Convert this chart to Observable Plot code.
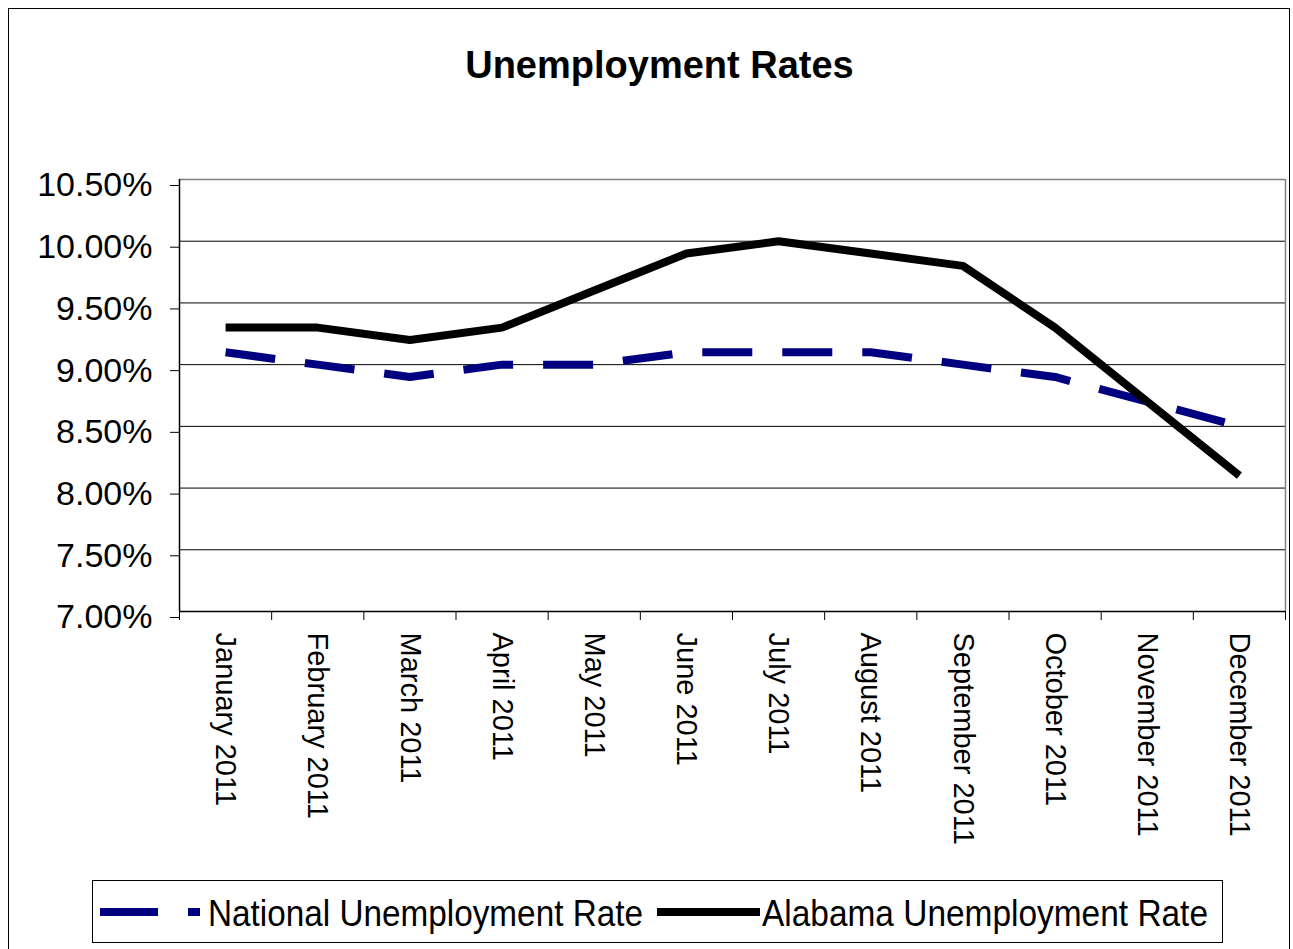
<!DOCTYPE html>
<html>
<head>
<meta charset="utf-8">
<script src="https://cdn.jsdelivr.net/npm/d3@7"></script>
<script src="https://cdn.jsdelivr.net/npm/@observablehq/plot@0.6"></script>
<style>
  html, body { margin: 0; padding: 0; background: #fff; }
  #wrap { position: relative; width: 1293px; height: 949px; overflow: hidden; background: #fff; font-family: "Liberation Sans", Arial, sans-serif; }
  #border { position: absolute; left: 8px; top: 8px; width: 1282px; height: 980px; border: 1px solid #000; box-sizing: border-box; }
  #title { position: absolute; left: 0; top: 46px; width: 1319px; text-align: center; font-size: 38px; line-height: 38px; font-weight: bold; color: #000; }
  #chart { position: absolute; left: 0; top: 0; }
  #legend { position: absolute; left: 0; top: 0; }
</style>
</head>
<body>
<div id="wrap">
  <div id="border"></div>
  <div id="title">Unemployment Rates</div>
  <div id="chart"></div>
  <svg id="legend" width="1293" height="949"></svg>
</div>
<script>
const months = ["January 2011","February 2011","March 2011","April 2011","May 2011","June 2011","July 2011","August 2011","September 2011","October 2011","November 2011","December 2011"];
const national = [9.1, 9.0, 8.9, 9.0, 9.0, 9.1, 9.1, 9.1, 9.0, 8.9, 8.7, 8.5];
const alabama = [9.3, 9.3, 9.2, 9.3, 9.6, 9.9, 10.0, 9.9, 9.8, 9.3, 8.7, 8.1];
const yTicks = [7.0, 7.5, 8.0, 8.5, 9.0, 9.5, 10.0, 10.5];
const seriesNames = ["National Unemployment Rate", "Alabama Unemployment Rate"];

const idx = months.map((_, i) => i);
const boundaries = months.map((_, i) => i - 0.5).concat([months.length - 0.5]);
const natRows = national.map((v, i) => ({i, v}));
const alaRows = alabama.map((v, i) => ({i, v}));
const yMin = yTicks[0], yMax = yTicks[yTicks.length - 1];
const xMin = -0.5, xMax = months.length - 0.5;

const chart = Plot.plot({
  width: 1293,
  height: 860,
  marginLeft: 179,
  marginRight: 8,
  marginTop: 179,
  marginBottom: 249,
  x: {domain: [xMin, xMax], label: null},
  y: {domain: [yMin, yMax], label: null},
  style: {fontFamily: "'Liberation Sans', Arial, sans-serif", background: "transparent", overflow: "visible", color: "#000"},
  marks: [
    Plot.ruleY(yTicks.filter(t => t > yMin && t < yMax), {stroke: "#000", strokeWidth: 1}),
    Plot.ruleY([yMax], {stroke: "#808080", strokeWidth: 1.5}),
    Plot.ruleX([xMax], {stroke: "#808080", strokeWidth: 1.5}),
    Plot.axisY(yTicks, {tickSize: 9, tickPadding: 18, fontSize: 34, dy: 6, tickFormat: d => d.toFixed(2) + "%", stroke: "#000"}),
    Plot.axisX(boundaries, {tickSize: 9, tickFormat: () => "", stroke: "#000"}),
    Plot.axisX(idx, {tickSize: 0, tickPadding: 21, tickRotate: 90, fontSize: 29, tickFormat: i => months[i]}),
    Plot.ruleX([xMin], {stroke: "#000", strokeWidth: 1.5}),
    Plot.ruleY([yMin], {stroke: "#000", strokeWidth: 1.5}),
    Plot.line(natRows, {x: "i", y: "v", stroke: "#000080", strokeWidth: 8, strokeDasharray: "50,30", strokeLinejoin: "miter", strokeLinecap: "butt"}),
    Plot.line(alaRows, {x: "i", y: "v", stroke: "#000", strokeWidth: 8, strokeLinejoin: "miter", strokeLinecap: "butt"})
  ]
});
document.getElementById("chart").appendChild(chart);

// Legend
const lg = d3.select("#legend");
lg.append("rect").attr("x", 92.5).attr("y", 880.5).attr("width", 1130).attr("height", 62)
  .attr("fill", "#fff").attr("stroke", "#000").attr("stroke-width", 1);
lg.append("line").attr("x1", 100).attr("x2", 200).attr("y1", 912).attr("y2", 912)
  .attr("stroke", "#000080").attr("stroke-width", 8).attr("stroke-dasharray", "58,30");
lg.append("text").attr("x", 208).attr("y", 926).attr("font-size", 36)
  .attr("textLength", 435).attr("lengthAdjust", "spacingAndGlyphs")
  .attr("font-family", "'Liberation Sans', Arial, sans-serif").text(seriesNames[0]);
lg.append("line").attr("x1", 657).attr("x2", 760).attr("y1", 912).attr("y2", 912)
  .attr("stroke", "#000").attr("stroke-width", 8);
lg.append("text").attr("x", 762).attr("y", 926).attr("font-size", 36)
  .attr("textLength", 446).attr("lengthAdjust", "spacingAndGlyphs")
  .attr("font-family", "'Liberation Sans', Arial, sans-serif").text(seriesNames[1]);
</script>
</body>
</html>
